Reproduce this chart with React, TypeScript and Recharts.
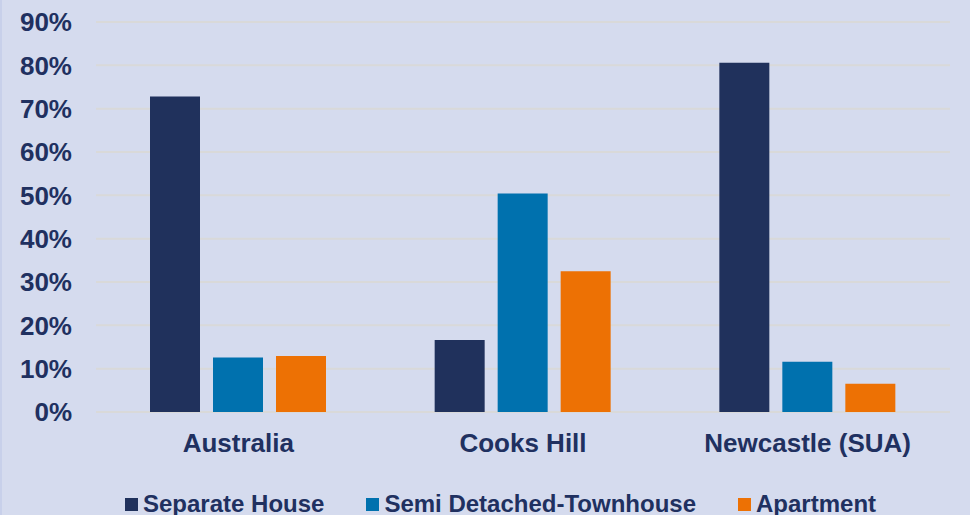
import React from 'react';
import { BarChart, Bar, XAxis, YAxis, CartesianGrid, Legend } from 'recharts';

// dwelling type share by area
const areas = ['Australia', 'Cooks Hill', 'Newcastle (SUA)'];
const separateHouse = [0.728, 0.166, 0.806];
const semiDetached = [0.126, 0.504, 0.116];
const apartment = [0.129, 0.325, 0.065];
const yTicks = [0, 0.1, 0.2, 0.3, 0.4, 0.5, 0.6, 0.7, 0.8, 0.9];

const seriesNames = ['Separate House', 'Semi Detached-Townhouse', 'Apartment'];
const seriesColors = ['#20315C', '#0071AE', '#ED7104'];

const TEXT = '#203060';
const FONT = '"Liberation Sans", Arial, sans-serif';

const data = areas.map((area, i) => ({
  area,
  separate: separateHouse[i],
  semi: semiDetached[i],
  apartment: apartment[i],
}));

// legend keeps the series order (recharts sorts the payload by name)
const LegendContent = () => (
  <div
    style={{
      height: 35,
      boxSizing: 'border-box',
      paddingTop: 13,
      paddingLeft: 125,
      display: 'flex',
      alignItems: 'center',
      gap: 42,
      fontFamily: FONT,
      fontWeight: 700,
      fontSize: 24,
      lineHeight: '24px',
      color: TEXT,
      whiteSpace: 'nowrap',
    }}
  >
    {seriesNames.map((name, i) => (
      <div key={name} style={{ display: 'flex', alignItems: 'center' }}>
        <span
          style={{
            display: 'inline-block',
            width: 13,
            height: 13,
            background: seriesColors[i],
            marginRight: 5,
          }}
        />
        <span>{name}</span>
      </div>
    ))}
  </div>
);

export default function App() {
  return (
    <div
      style={{
        position: 'absolute',
        left: 0,
        top: 0,
        width: 970,
        height: 515,
        overflow: 'hidden',
        background: '#D5DBEE',
        borderLeft: '2px solid #C8D0EA',
        boxSizing: 'border-box',
      }}
    >
      <div style={{ position: 'absolute', left: -2, top: 0 }}>
        <BarChart
          width={970}
          height={515}
          data={data}
          margin={{ top: 22, right: 20, left: 0, bottom: 0 }}
          barSize={50}
          barGap={13}
        >
          <CartesianGrid vertical={false} stroke="#D9D9D9" strokeWidth={2} />
          <XAxis
            dataKey="area"
            axisLine={false}
            tickLine={false}
            tickSize={0}
            tickMargin={22}
            height={68}
            tick={{ fill: TEXT, fontSize: 26, fontWeight: 700, fontFamily: FONT }}
          />
          <YAxis
            domain={[0, 0.9]}
            ticks={yTicks}
            interval={0}
            width={96}
            axisLine={false}
            tickLine={false}
            tickSize={0}
            tickMargin={24}
            tickFormatter={(v: number) => `${Math.round(v * 100)}%`}
            tick={{ fill: TEXT, fontSize: 26, fontWeight: 700, fontFamily: FONT }}
          />
          <Legend verticalAlign="bottom" content={<LegendContent />} />
          <Bar dataKey="separate" name={seriesNames[0]} fill={seriesColors[0]} isAnimationActive={false} />
          <Bar dataKey="semi" name={seriesNames[1]} fill={seriesColors[1]} isAnimationActive={false} />
          <Bar dataKey="apartment" name={seriesNames[2]} fill={seriesColors[2]} isAnimationActive={false} />
        </BarChart>
      </div>
    </div>
  );
}
